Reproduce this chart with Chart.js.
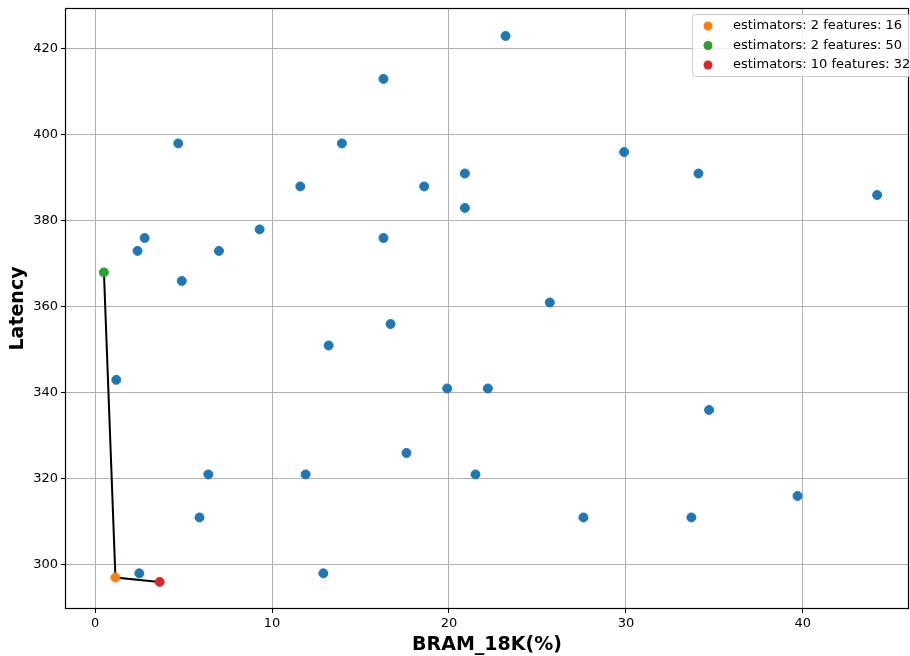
<!DOCTYPE html>
<html>
<head>
<meta charset="utf-8">
<script src="https://cdn.jsdelivr.net/npm/chart.js@4.4.1/dist/chart.umd.min.js"></script>
<style>
html,body{margin:0;padding:0;background:#fff;}
#wrap{width:910px;height:656px;}
</style>
</head>
<body>
<div id="wrap"><canvas id="c" width="910" height="656"></canvas></div>
<script>
// All design points
const bramAll = [23.2, 16.3, 4.7, 13.95, 29.9, 11.6, 18.6, 20.9, 34.1, 44.2, 20.9, 9.3, 2.8, 16.3, 2.4, 7.0, 4.9, 25.7, 16.7, 13.2, 1.2, 19.9, 22.2, 34.7, 17.6, 6.4, 11.9, 21.5, 39.7, 5.9, 27.6, 33.7, 2.5, 12.9];
const latencyAll = [423, 413, 398, 398, 396, 388, 388, 391, 391, 386, 383, 378, 376, 376, 373, 373, 366, 361, 356, 351, 343, 341, 341, 336, 326, 321, 321, 321, 316, 311, 311, 311, 298, 298];
// Pareto points
const paretoLabels = ["estimators: 2 features: 16", "estimators: 2 features: 50", "estimators: 10 features: 32"];
const paretoBram = [1.15, 0.5, 3.65];
const paretoLatency = [297, 368, 296];
// Pareto front line (sorted by bram)
const frontBram = [0.5, 1.15, 3.65];
const frontLatency = [368, 297, 296];
// Tick labels
const xTicks = [0, 10, 20, 30, 40];
const yTicks = [300, 320, 340, 360, 380, 400, 420];
const xTitle = "BRAM_18K(%)";
const yTitle = "Latency";
const paretoColors = ["#ff7f0e", "#2ca02c", "#d62728"];

const datasets = [
  {
    label: "front",
    type: "line",
    data: frontBram.map((x, i) => ({x, y: frontLatency[i]})),
    borderColor: "#000",
    borderWidth: 2,
    pointRadius: 0,
    fill: false,
    order: 1,
    showLine: true
  },
  {
    label: "all",
    data: bramAll.map((x, i) => ({x, y: latencyAll[i]})),
    backgroundColor: "#1f77b4",
    borderColor: "#1f77b4",
    pointRadius: 4.5,
    order: 2
  }
];
paretoLabels.forEach((lab, i) => {
  datasets.push({
    label: lab,
    data: [{x: paretoBram[i], y: paretoLatency[i]}],
    backgroundColor: paretoColors[i],
    borderColor: paretoColors[i],
    pointRadius: 4.5,
    order: 0
  });
});

const framePlugin = {
  id: "frame",
  afterDatasetsDraw(chart) {
    const {ctx, chartArea: a} = chart;
    ctx.save();
    ctx.strokeStyle = "#000";
    ctx.lineWidth = 1.2;
    ctx.strokeRect(a.left + 0.5, a.top + 0.5, a.right - a.left - 1, a.bottom - a.top - 1);
    ctx.restore();
  }
};

const legendPlugin = {
  id: "customLegend",
  afterDraw(chart) {
    const ctx = chart.ctx;
    const x0 = 692, y0 = 14, w = 222, h = 62;
    ctx.save();
    ctx.fillStyle = "rgba(255,255,255,0.8)";
    ctx.strokeStyle = "#cccccc";
    ctx.lineWidth = 1;
    ctx.beginPath();
    if (ctx.roundRect) ctx.roundRect(x0 + 0.5, y0 + 0.5, w, h, 3); else ctx.rect(x0 + 0.5, y0 + 0.5, w, h);
    ctx.fill();
    ctx.stroke();
    ctx.font = "13px 'DejaVu Sans'";
    ctx.textBaseline = "middle";
    paretoLabels.forEach((lab, i) => {
      const cy = y0 + 12 + i * 19.5;
      ctx.fillStyle = paretoColors[i];
      ctx.beginPath();
      ctx.arc(708, cy, 4.5, 0, Math.PI * 2);
      ctx.fill();
      ctx.fillStyle = "#000";
      ctx.fillText(lab, 733, cy);
    });
    ctx.restore();
  }
};

new Chart(document.getElementById("c"), {
  type: "scatter",
  data: {datasets},
  options: {
    responsive: false,
    animation: false,
    devicePixelRatio: 1,
    layout: {autoPadding: false, padding: {top: 8, right: 1, left: 0, bottom: 0}},
    plugins: {legend: {display: false}, tooltip: {enabled: false}},
    scales: {
      x: {
        type: "linear",
        min: -1.7,
        max: 46.0,
        ticks: {color: "#000", font: {family: "DejaVu Sans", size: 13}, padding: 3, maxRotation: 0, autoSkip: false},
        grid: {color: "#b0b0b0", lineWidth: 1, tickLength: 4, tickColor: "#000", drawTicks: true},
        border: {display: false},
        title: {display: true, text: xTitle, color: "#000", font: {family: "DejaVu Sans", size: 19, weight: "bold"}, padding: {top: 0, bottom: 0}},
        afterBuildTicks: (s) => { s.ticks = xTicks.map(v => ({value: v})); },
        afterFit: (s) => { s.height = 47; s.paddingLeft = 0; s.paddingRight = 0; }
      },
      y: {
        type: "linear",
        min: 289.7,
        max: 429.5,
        ticks: {color: "#000", font: {family: "DejaVu Sans", size: 13}, padding: 3, autoSkip: false},
        grid: {color: "#b0b0b0", lineWidth: 1, tickLength: 4, tickColor: "#000", drawTicks: true},
        border: {display: false},
        title: {display: true, text: yTitle, color: "#000", font: {family: "DejaVu Sans", size: 19, weight: "bold"}, padding: {top: 7, bottom: 0}},
        afterBuildTicks: (s) => { s.ticks = yTicks.map(v => ({value: v})); },
        afterFit: (s) => { s.width = 65; s.paddingTop = 0; s.paddingBottom = 0; }
      }
    }
  },
  plugins: [framePlugin, legendPlugin]
});
</script>
</body>
</html>
